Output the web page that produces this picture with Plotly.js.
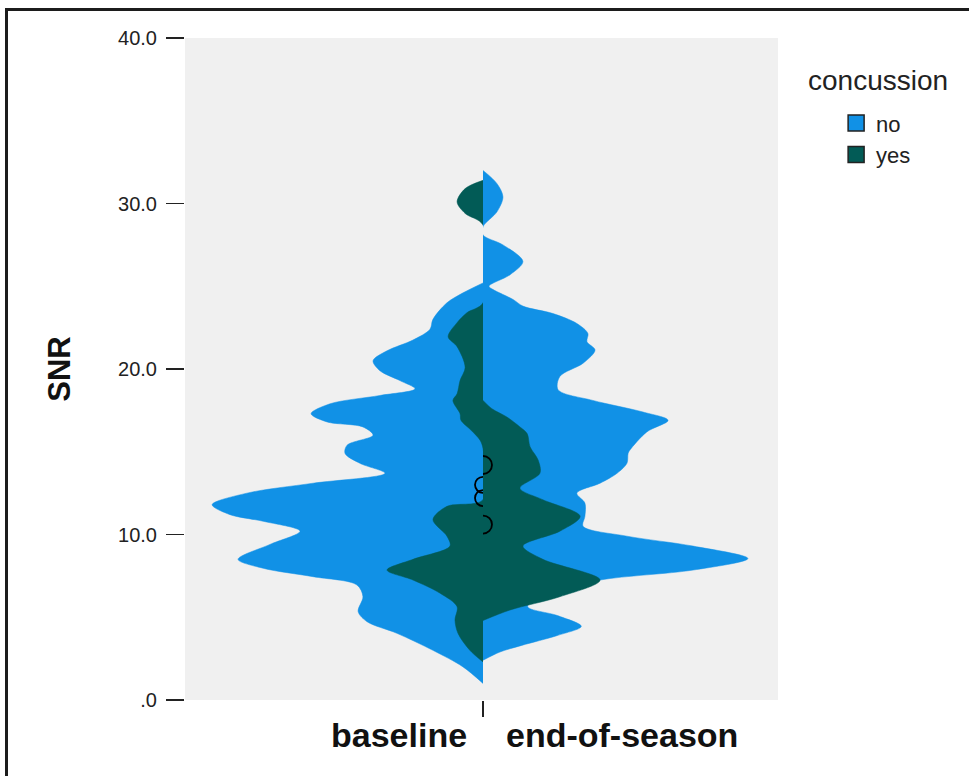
<!DOCTYPE html>
<html>
<head>
<meta charset="utf-8">
<script src="https://cdn.plot.ly/plotly-3.0.1.min.js"></script>
<style>
  html, body { margin: 0; padding: 0; background: #ffffff; }
  #wrap { position: relative; width: 969px; height: 776px; overflow: hidden; }
  #chart { width: 969px; height: 776px; }
  #frame { position: absolute; left: 5px; top: 8px; width: 980px; height: 790px;
           border-top: 3px solid #1c1c1c; border-left: 3px solid #1c1c1c; pointer-events: none; }
</style>
</head>
<body>
<div id="wrap">
  <div id="chart"></div>
  <div id="frame"></div>
</div>
<script>
// ---------------- data ----------------
const categories = ['baseline', 'end-of-season'];
const groups = ['no', 'yes'];
const yTickVals = [0, 10, 20, 30, 40];
const yTickText = ['.0', '10.0', '20.0', '30.0', '40.0'];

// half-violin outlines: SNR value and density (half-width)
const baselineNoY = [25.2, 24.6, 24.0, 23.0, 22.4, 21.75, 21.1, 20.5, 19.9, 19.3, 18.8, 18.4, 17.9, 17.3, 16.8, 16.5, 16.0, 15.4, 14.9, 14.3, 13.7, 13.1, 12.5, 11.8, 11.2, 10.8, 10.2, 9.4, 8.5, 7.96, 7.45, 6.95, 6.24, 5.34, 4.73, 4.03, 3.0, 2.0, 1.0];
const baselineNoW = [0, 0.067, 0.121, 0.168, 0.178, 0.235, 0.322, 0.369, 0.346, 0.279, 0.228, 0.346, 0.513, 0.577, 0.523, 0.403, 0.369, 0.456, 0.463, 0.413, 0.329, 0.570, 0.792, 0.909, 0.849, 0.738, 0.614, 0.715, 0.822, 0.738, 0.570, 0.423, 0.403, 0.419, 0.389, 0.289, 0.168, 0.067, 0];

const baselineYesY = [31.4, 30.9, 30.1, 29.4, 28.7, 24.0, 23.4, 22.8, 21.95, 21.35, 20.1, 19.3, 18.5, 18.1, 17.3, 16.9, 16.3, 15.7, 15.2, 12.1, 11.7, 10.9, 9.9, 9.3, 8.5, 7.85, 7.25, 6.45, 5.64, 4.83, 4.03, 3.0, 2.3];
const baselineYesW = [0, 0.060, 0.087, 0.060, 0, 0, 0.054, 0.087, 0.117, 0.087, 0.060, 0.077, 0.087, 0.101, 0.077, 0.074, 0.040, 0.010, 0, 0, 0.121, 0.168, 0.121, 0.111, 0.235, 0.322, 0.235, 0.144, 0.087, 0.094, 0.084, 0.044, 0];

const endNoY = [32.0, 31.2, 30.4, 29.5, 28.6, 28.1, 27.5, 26.5, 25.7, 25.0, 24.8, 24.2, 23.8, 23.35, 22.75, 22.15, 21.65, 21.15, 20.35, 19.55, 18.75, 18.1, 17.4, 16.9, 16.2, 15.1, 14.9, 14.3, 13.7, 13.1, 12.5, 11.9, 11.1, 10.5, 9.9, 9.3, 8.55, 7.85, 7.25, 6.4, 5.64, 5.1, 4.45, 3.9, 3.3, 2.9, 2.4];
const endNoW = [0, 0.047, 0.067, 0.047, 0, 0, 0.067, 0.134, 0.091, 0.020, 0.034, 0.101, 0.134, 0.235, 0.315, 0.352, 0.349, 0.376, 0.336, 0.258, 0.252, 0.369, 0.537, 0.621, 0.550, 0.493, 0.487, 0.483, 0.450, 0.393, 0.315, 0.342, 0.342, 0.336, 0.483, 0.705, 0.889, 0.705, 0.393, 0.200, 0.150, 0.250, 0.330, 0.250, 0.130, 0.057, 0];

const endYesY = [18.1, 17.6, 17.1, 16.5, 16.1, 15.3, 14.5, 13.7, 12.8, 12.1, 11.1, 10.2, 9.3, 8.5, 7.25, 6.24, 5.44, 4.8];
const endYesW = [0, 0.030, 0.080, 0.124, 0.148, 0.158, 0.185, 0.191, 0.124, 0.201, 0.326, 0.258, 0.134, 0.201, 0.393, 0.258, 0.091, 0];

// centre markers (circles on the split line)
const baselineMarks = [13.0, 12.2];
const endMarks = [14.2, 10.6];

// ---------------- styling ----------------
const BLUE = '#1191e6';
const GREEN = '#025b56';
const FONT = 'Liberation Sans, Arial, Helvetica, sans-serif';
const TEXT = '#222222';

function half(yArr, wArr, side, color, xa) {
  return {
    type: 'scatter', mode: 'lines',
    x: wArr.map(w => side * w), y: yArr,
    xaxis: xa, yaxis: 'y',
    fill: 'tozerox', fillcolor: color,
    line: { color: color, width: 0.5, shape: 'spline', smoothing: 0.9 },
    hoverinfo: 'skip', showlegend: false
  };
}

const traces = [
  half(baselineNoY, baselineNoW, -1, BLUE, 'x'),
  half(baselineYesY, baselineYesW, -1, GREEN, 'x'),
  {
    type: 'scatter', mode: 'markers', x: baselineMarks.map(() => 0), y: baselineMarks,
    xaxis: 'x', yaxis: 'y', cliponaxis: true,
    marker: { symbol: 'circle-open', size: 16, color: '#000', line: { width: 1.8, color: '#000' } },
    hoverinfo: 'skip', showlegend: false
  },
  half(endNoY, endNoW, 1, BLUE, 'x2'),
  half(endYesY, endYesW, 1, GREEN, 'x2'),
  {
    type: 'scatter', mode: 'markers', x: endMarks.map(() => 0), y: endMarks,
    xaxis: 'x2', yaxis: 'y', cliponaxis: true,
    marker: { symbol: 'circle-open', size: 18, color: '#000', line: { width: 1.8, color: '#000' } },
    hoverinfo: 'skip', showlegend: false
  },
  // legend entries
  {
    type: 'scatter', mode: 'markers', x: [null], y: [null], xaxis: 'x2', yaxis: 'y',
    name: groups[0], marker: { symbol: 'square', size: 20, color: BLUE, line: { color: '#222', width: 1.5 } }
  },
  {
    type: 'scatter', mode: 'markers', x: [null], y: [null], xaxis: 'x2', yaxis: 'y',
    name: groups[1], marker: { symbol: 'square', size: 20, color: GREEN, line: { color: '#222', width: 1.5 } }
  }
];

const SPLIT = 298 / 593;

const layout = {
  width: 969, height: 776,
  margin: { l: 185, r: 191, t: 38, b: 76 },
  paper_bgcolor: '#ffffff',
  plot_bgcolor: 'rgba(0,0,0,0)',
  font: { family: FONT, color: TEXT },
  showlegend: true,
  xaxis: {
    domain: [0, SPLIT], range: [-1, 0], anchor: 'y',
    showgrid: false, zeroline: false, showline: false, ticks: '', showticklabels: false, fixedrange: true
  },
  xaxis2: {
    domain: [SPLIT, 1], range: [0, 0.99], anchor: 'y',
    showgrid: false, zeroline: false, showline: false,
    tickmode: 'array', tickvals: [0], ticktext: [''], ticks: 'outside',
    ticklen: 16, tickwidth: 1.5, tickcolor: TEXT, showticklabels: false, fixedrange: true
  },
  yaxis: {
    range: [0, 40], domain: [0, 1],
    showgrid: false, zeroline: false, showline: false,
    tickmode: 'array', tickvals: yTickVals, ticktext: yTickText,
    ticks: 'outside', ticklen: 18, tickwidth: 1.5, tickcolor: TEXT,
    ticklabelstandoff: 5,
    tickfont: { family: FONT, size: 20, color: TEXT },
    title: { text: 'SNR', font: { family: FONT, size: 31, weight: 'bold', color: '#111' }, standoff: 38 },
    fixedrange: true
  },
  shapes: [
    { type: 'rect', xref: 'paper', yref: 'paper', x0: 0, x1: 1, y0: 0, y1: 1,
      fillcolor: '#f0f0f0', line: { width: 0 }, layer: 'below' }
  ],
  legend: {
    x: 1.098, y: 0.903, xanchor: 'left', yanchor: 'top',
    font: { family: FONT, size: 22, color: TEXT },
    bgcolor: 'rgba(0,0,0,0)', borderwidth: 0, traceorder: 'normal', itemclick: false, itemdoubleclick: false
  },
  annotations: [
    { text: 'concussion', xref: 'paper', yref: 'paper', x: (878 - 185) / 593, y: (700 - 81) / 662,
      xanchor: 'center', yanchor: 'middle', showarrow: false,
      font: { family: FONT, size: 28, color: TEXT } },
    { text: categories[0], xref: 'paper', yref: 'paper', x: (469 - 185) / 593, y: (700 - 735) / 662,
      xanchor: 'right', yanchor: 'middle', showarrow: false,
      font: { family: FONT, size: 34, weight: 'bold', color: '#111' } },
    { text: categories[1], xref: 'paper', yref: 'paper', x: (504 - 185) / 593, y: (700 - 735) / 662,
      xanchor: 'left', yanchor: 'middle', showarrow: false,
      font: { family: FONT, size: 34, weight: 'bold', color: '#111' } }
  ]
};

Plotly.newPlot('chart', traces, layout, { displayModeBar: false, staticPlot: true });
</script>
</body>
</html>
